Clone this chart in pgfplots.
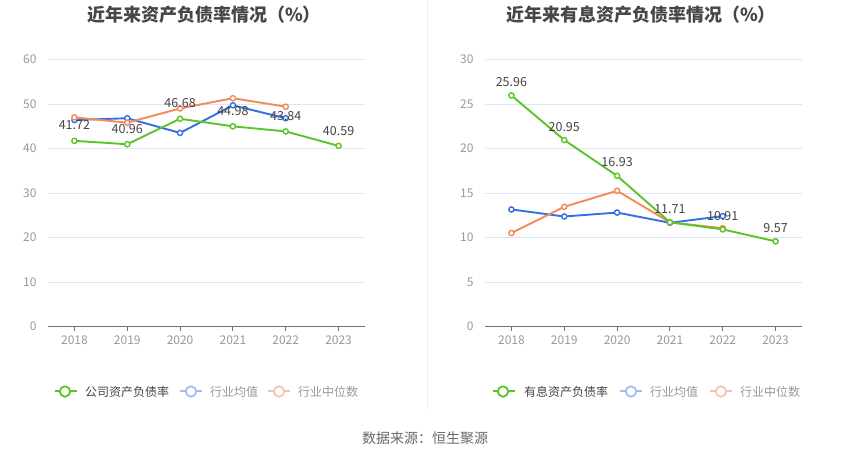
\documentclass[border=0pt]{standalone}
\usepackage{pgfplots}
\pgfplotsset{compat=1.18}
\usepackage{fontspec}
\setmainfont{Noto Sans CJK SC}
\definecolor{cgreen}{HTML}{5AC42B}
\definecolor{cblue}{HTML}{3370E4}
\definecolor{corange}{HTML}{F5895C}
\definecolor{lblue}{HTML}{A2BCF3}
\definecolor{lorange}{HTML}{F8C3AD}
\definecolor{gridcol}{HTML}{E0E6F1}
\definecolor{axiscol}{HTML}{6E7079}
\definecolor{tickcol}{HTML}{999999}
\definecolor{labcol}{HTML}{444444}
\definecolor{titlecol}{HTML}{464646}
\definecolor{divcol}{HTML}{EEEEEE}
\pgfplotsset{
  myaxis/.style={
    scale only axis, width=317pt, height=267pt, anchor=south west,
    xmin=-0.5, xmax=5.5, xtick={0,1,2,3,4,5},
    xticklabels={2018,2019,2020,2021,2022,2023},
    axis x line*=bottom, axis y line*=left,
    y axis line style={draw=none},
    x axis line style={axiscol, line width=1pt, -},
    xtick style={axiscol, line width=1pt},
    ytick style={draw=none},
    tick align=outside, major tick length=5pt,
    ymajorgrids, grid style={gridcol, line width=0.8pt},
    tick label style={font=\fontsize{12}{14}\selectfont, color=tickcol},
    /pgf/number format/assume math mode=true,
    yticklabel style={xshift=-3pt},
    xticklabel style={yshift=-1pt},
    clip=false,
  },
  ser/.style={color=#1, line width=1.9pt, mark=*, mark size=2.6pt,
    mark options={fill=white, line width=1.4pt}},
  lab/.style={nodes near coords, point meta=explicit symbolic,
    every node near coord/.append style={anchor=south, inner sep=0pt,
      yshift=#1, font=\fontsize{12.5}{14}\selectfont, text=labcol}},
}
\begin{document}
\begin{tikzpicture}
\path[fill=white] (0pt,0pt) rectangle (850pt,459pt);
\draw[divcol, line width=1pt] (427pt,50pt) -- (427pt,459pt);
% Left
\begin{axis}[myaxis, at={(48pt,133pt)}, ymin=0, ymax=60, ytick={0,10,...,60}]
\addplot[ser=cblue] coordinates {(0,46.4) (1,46.8) (2,43.5) (3,49.7) (4,46.8)};
\addplot[ser=corange] coordinates {(0,47.0) (1,45.8) (2,49.0) (3,51.3) (4,49.4)};
\addplot[ser=cgreen, lab=10pt] coordinates {(0,41.72)[41.72] (1,40.96)[40.96] (2,46.68)[46.68] (3,44.98)[44.98] (4,43.84)[43.84] (5,40.59)[40.59]};
\end{axis}
% Right
\begin{axis}[myaxis, at={(485pt,133pt)}, ymin=0, ymax=30, ytick={0,5,...,30}]
\addplot[ser=cblue] coordinates {(0,13.15) (1,12.36) (2,12.8) (3,11.65) (4,12.4)};
\addplot[ser=corange] coordinates {(0,10.5) (1,13.45) (2,15.25) (3,11.7) (4,11.05)};
\addplot[ser=cgreen, lab=8pt] coordinates {(0,25.96)[25.96] (1,20.95)[20.95] (2,16.93)[16.93] (3,11.71)[11.71] (4,10.91)[10.91] (5,9.57)[9.57]};
\end{axis}
% Titles
\node[font=\fontsize{18}{21}\selectfont\bfseries, text=titlecol] at (204pt,445pt) {近年来资产负债率情况（\%）};
\node[font=\fontsize{18}{21}\selectfont\bfseries, text=titlecol] at (641pt,445pt) {近年来有息资产负债率情况（\%）};
% Legends
\foreach \lx/\cx/\tx/\col/\tcol/\txt in {
  55/65/85/cgreen/labcol/公司资产负债率,
  180/191/210/lblue/tickcol/行业均值,
  268/279/298/lorange/tickcol/行业中位数,
  493/503/524/cgreen/labcol/有息资产负债率,
  620/631/650/lblue/tickcol/行业均值,
  710/721/740/lorange/tickcol/行业中位数}{
  \draw[\col, line width=2pt] (\lx pt,68pt) -- ++(22pt,0pt);
  \draw[\col, line width=1.8pt, fill=white] (\cx pt,68pt) circle (5.2pt);
  \node[anchor=west, inner sep=0pt, font=\fontsize{12}{14}\selectfont, text=\tcol] at (\tx pt,68pt) {\txt};
}
\node[font=\fontsize{14}{16}\selectfont, text=labcol!80] at (425pt,21pt) {数据来源：恒生聚源};
\end{tikzpicture}
\end{document}
